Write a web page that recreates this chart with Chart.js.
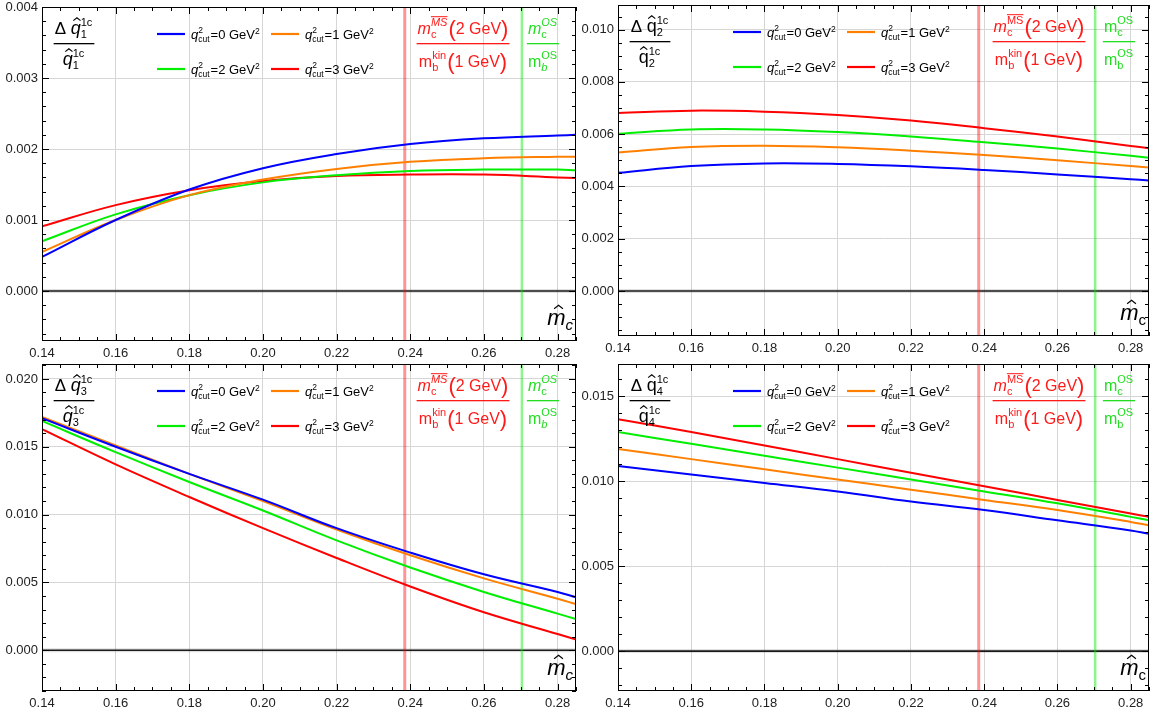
<!DOCTYPE html>
<html lang="en">
<head>
<meta charset="UTF-8">
<title>q-hat corrections vs m_c</title>
<script src="https://cdn.jsdelivr.net/npm/chart.js"></script>
<style>
    body {
        margin: 0;
        background: #fff;
        width: 1153px;
        height: 715px;
        position: relative;
        overflow: hidden;
    }
    canvas {
        position: absolute;
        left: 0;
        top: 0;
    }
</style>
</head>
<body>
<canvas id="c1" width="1153" height="715"></canvas>
<canvas id="c2" width="1153" height="715"></canvas>
<canvas id="c3" width="1153" height="715"></canvas>
<canvas id="c4" width="1153" height="715"></canvas>

<script>
const mcHat = [0.14, 0.16, 0.18, 0.20, 0.22, 0.24, 0.26, 0.28, 0.285];
const cutValues = ['0', '1', '2', '3'];
const cutColors = ['#0000ff', '#ff8000', '#00ee00', '#ff0000'];
const xTicks = [0.14, 0.16, 0.18, 0.20, 0.22, 0.24, 0.26, 0.28];

const mcMSbar = 0.2385;
const mcOS = 0.2703;

const q1Cut0 = [0.00048, 0.00100, 0.00143, 0.00173, 0.00193, 0.00207, 0.00215, 0.00219, 0.00220];
const q1Cut1 = [0.00055, 0.00100, 0.00135, 0.00157, 0.00172, 0.00182, 0.00187, 0.00189, 0.00189];
const q1Cut2 = [0.00070, 0.00108, 0.00135, 0.00153, 0.00163, 0.00169, 0.00171, 0.00171, 0.00170];
const q1Cut3 = [0.00091, 0.00121, 0.00142, 0.00155, 0.00162, 0.00164, 0.00164, 0.00160, 0.00159];

const q2Cut0 = [0.00452, 0.00478, 0.00488, 0.00486, 0.00477, 0.00463, 0.00446, 0.00428, 0.00423];
const q2Cut1 = [0.00530, 0.00551, 0.00556, 0.00550, 0.00537, 0.00520, 0.00500, 0.00478, 0.00472];
const q2Cut2 = [0.00602, 0.00618, 0.00618, 0.00608, 0.00591, 0.00569, 0.00545, 0.00517, 0.00510];
const q2Cut3 = [0.00681, 0.00690, 0.00686, 0.00673, 0.00652, 0.00623, 0.00591, 0.00555, 0.00546];

const q3Cut0 = [0.0171, 0.0150, 0.0130, 0.0111, 0.0090, 0.0072, 0.0056, 0.0043, 0.0039];
const q3Cut1 = [0.0172, 0.0151, 0.0130, 0.0110, 0.0089, 0.0070, 0.0053, 0.0038, 0.0034];
const q3Cut2 = [0.0169, 0.0146, 0.0124, 0.0103, 0.0081, 0.0061, 0.0043, 0.0027, 0.0023];
const q3Cut3 = [0.0163, 0.0137, 0.0113, 0.0090, 0.0068, 0.0047, 0.0028, 0.0012, 0.0008];

const q4Cut0 = [0.0109, 0.0104, 0.0099, 0.0094, 0.0088, 0.0083, 0.0077, 0.0071, 0.0069];
const q4Cut1 = [0.0119, 0.0113, 0.0107, 0.0101, 0.0095, 0.0089, 0.0083, 0.0076, 0.0074];
const q4Cut2 = [0.0129, 0.0122, 0.0115, 0.0108, 0.0101, 0.0094, 0.0087, 0.0079, 0.0077];
const q4Cut3 = [0.01365, 0.0129, 0.0121, 0.0113, 0.0105, 0.0097, 0.0089, 0.0081, 0.0079];

const yTicks1 = [0, 0.001, 0.002, 0.003, 0.004];
const yTicks2 = [0, 0.002, 0.004, 0.006, 0.008, 0.010];
const yTicks3 = [0, 0.005, 0.010, 0.015, 0.020];
const yTicks4 = [0, 0.005, 0.010, 0.015];

// page layout: chart area [left, top, right, bottom] in page pixels
const panels = [
    { id: 'c1', n: '1', up: false, area: [42, 7, 576, 341], y: [-0.000704, 0.004], ticks: yTicks1, minor: 0.0002, series: [q1Cut0, q1Cut1, q1Cut2, q1Cut3] },
    { id: 'c2', n: '2', up: true, area: [618, 5, 1149, 336], y: [-0.00172, 0.01094], ticks: yTicks2, minor: 0.0005, series: [q2Cut0, q2Cut1, q2Cut2, q2Cut3] },
    { id: 'c3', n: '3', up: false, area: [42, 364, 576, 691], y: [-0.0030, 0.0211], ticks: yTicks3, minor: 0.001, series: [q3Cut0, q3Cut1, q3Cut2, q3Cut3] },
    { id: 'c4', n: '4', up: true, area: [618, 364, 1149, 691], y: [-0.00235, 0.0169], ticks: yTicks4, minor: 0.001, series: [q4Cut0, q4Cut1, q4Cut2, q4Cut3] }
];

const FONT = '"Liberation Sans", Arial, sans-serif';
const Y_AXIS_W = 40;
const X_AXIS_H = 20;

function line(ctx, x1, y1, x2, y2) {
    ctx.beginPath();
    ctx.moveTo(x1, y1);
    ctx.lineTo(x2, y2);
    ctx.stroke();
}

function hat(ctx, cx, yb, hw) {
    ctx.save();
    ctx.lineWidth = 1.1;
    ctx.beginPath();
    ctx.moveTo(cx - hw, yb);
    ctx.lineTo(cx, yb - hw * 0.8);
    ctx.lineTo(cx + hw, yb);
    ctx.stroke();
    ctx.restore();
}

// text runs with italics, stacked super/subscripts, hats and overlines
function rich(ctx, x, y, parts, align) {
    const f = (s, it) => (it ? 'italic ' : '') + s + 'px ' + FONT;
    const wOf = p => {
        if (p.stack) {
            ctx.font = f(p.s, p.si);
            const a = ctx.measureText(p.stack[0]).width;
            ctx.font = f(p.s, p.bi);
            const b = ctx.measureText(p.stack[1]).width;
            return Math.max(a, b) + 1;
        }
        ctx.font = f(p.s, p.i);
        return ctx.measureText(p.t).width;
    };
    const widths = parts.map(wOf);
    const total = widths.reduce((s, w) => s + w, 0);
    let cx = align === 'center' ? x - total / 2 : align === 'right' ? x - total : x;
    ctx.textAlign = 'left';
    ctx.textBaseline = 'alphabetic';
    parts.forEach((p, k) => {
        if (p.stack) {
            ctx.font = f(p.s, p.si);
            const ys = y - p.s * 0.72;
            ctx.fillText(p.stack[0], cx, ys);
            if (p.over) {
                ctx.fillRect(cx, ys - p.s * 0.9, ctx.measureText(p.stack[0]).width, 1);
            }
            ctx.font = f(p.s, p.bi);
            ctx.fillText(p.stack[1], cx, y + p.s * 0.4);
        } else {
            ctx.font = f(p.s, p.i);
            ctx.fillText(p.t, cx, y + (p.dy || 0));
            if (p.hat) hat(ctx, cx + widths[k] * (p.i ? 0.62 : 0.5), y - p.s * 0.74, p.s * 0.2);
        }
        cx += widths[k];
    });
    return total;
}

function fraction(ctx, cx, yNum, yBar, yDen, num, den, color) {
    ctx.fillStyle = color;
    ctx.strokeStyle = color;
    const w1 = rich(ctx, cx, yNum, num, 'center');
    const w2 = rich(ctx, cx, yDen, den, 'center');
    const w = Math.max(w1, w2) + 2;
    ctx.fillRect(cx - w / 2, yBar, w, 1.3);
}

const decor = {
    id: 'decor',
    beforeDatasetsDraw(chart) {
        const { ctx, chartArea: a, scales: { x, y } } = chart;
        ctx.save();
        const y0 = y.getPixelForValue(0);
        ctx.strokeStyle = 'rgba(0,0,0,0.12)';
        ctx.lineWidth = 4;
        line(ctx, a.left, y0, a.right, y0);
        ctx.strokeStyle = '#1a1a1a';
        ctx.lineWidth = 1.6;
        line(ctx, a.left, y0, a.right, y0);

        const xr = x.getPixelForValue(mcMSbar);
        ctx.strokeStyle = 'rgba(255,0,0,0.42)';
        ctx.lineWidth = 3;
        line(ctx, xr, a.top, xr, a.bottom);
        const xg = x.getPixelForValue(mcOS);
        ctx.strokeStyle = 'rgba(0,235,0,0.45)';
        ctx.lineWidth = 2.5;
        line(ctx, xg, a.top, xg, a.bottom);
        ctx.restore();
    },
    afterDatasetsDraw(chart, args, opts) {
        const { ctx, chartArea: a, scales: { x, y } } = chart;
        ctx.save();
        ctx.strokeStyle = '#000';
        ctx.lineWidth = 1;
        ctx.strokeRect(a.left + 0.5, a.top + 0.5, a.right - a.left - 1, a.bottom - a.top - 1);

        // frame ticks, inward on all four sides
        for (let k = 0; k <= 30; k++) {
            const v = 0.14 + k * 0.005;
            if (v > x.max + 1e-9) break;
            const px = Math.round(x.getPixelForValue(v)) + 0.5;
            const len = k % 4 === 0 ? 7 : 4;
            line(ctx, px, a.bottom, px, a.bottom - len);
            line(ctx, px, a.top, px, a.top + len);
        }
        const p = opts.panel;
        const step = p.minor;
        const kMin = Math.ceil(y.min / step - 1e-6);
        const kMax = Math.floor(y.max / step + 1e-6);
        const per = Math.round((p.ticks[1] - p.ticks[0]) / step);
        for (let k = kMin; k <= kMax; k++) {
            const py = Math.round(y.getPixelForValue(k * step)) + 0.5;
            const len = k % per === 0 ? 7 : 4;
            line(ctx, a.left, py, a.left + len, py);
            line(ctx, a.right, py, a.right - len, py);
        }
        ctx.restore();
    },
    afterDraw(chart, args, opts) {
        const { ctx, chartArea: a } = chart;
        const p = opts.panel;
        ctx.save();

        // y label fraction
        const qn = [{ t: 'Δ ', s: 17 }, { t: 'q', s: 18, i: !p.up, hat: true }, { stack: ['1c', p.n], s: 11 }];
        const qd = [{ t: 'q', s: 18, i: !p.up, hat: true }, { stack: ['1c', p.n], s: 11 }];
        fraction(ctx, a.left + 32, a.top + 27, a.top + 36, a.top + 58, qn, qd, '#000');

        // legend 2x2
        const cols = [a.left + 115, a.left + 229];
        const rows = [a.top + 27, a.top + 62];
        cutValues.forEach((c, k) => {
            const lx = cols[k % 2];
            const ly = rows[Math.floor(k / 2)];
            ctx.strokeStyle = cutColors[k];
            ctx.lineWidth = 2.2;
            line(ctx, lx, ly, lx + 28, ly);
            ctx.fillStyle = '#000';
            rich(ctx, lx + 34, ly + 5, [
                { t: 'q', s: 13, i: true },
                { stack: ['2', 'cut'], s: 8.5 },
                { t: '=' + c + ' GeV', s: 13 },
                { t: '2', s: 8.5, dy: -5 }
            ], 'left');
        });

        // scheme labels next to the marker lines
        fraction(ctx, a.left + 421, a.top + 27, a.top + 36, a.top + 60,
            [{ t: 'm', s: 16, i: true }, { stack: ['MS', 'c'], s: 11, si: !p.up, over: true },
             { t: '(', s: 22, dy: 2 }, { t: '2 GeV', s: 16 }, { t: ')', s: 22, dy: 2 }],
            [{ t: 'm', s: 16 }, { stack: ['kin', 'b'], s: 11 },
             { t: '(', s: 22, dy: 2 }, { t: '1 GeV', s: 16 }, { t: ')', s: 22, dy: 2 }],
            '#ff1a1a');
        fraction(ctx, a.left + 501, a.top + 27, a.top + 36, a.top + 60,
            [{ t: 'm', s: 16, i: !p.up }, { stack: ['OS', 'c'], s: 11, si: !p.up }],
            [{ t: 'm', s: 16 }, { stack: ['OS', 'b'], s: 11, bi: !p.up }],
            '#22dd22');

        // x label
        ctx.fillStyle = '#000';
        ctx.strokeStyle = '#000';
        rich(ctx, a.right - 3, a.bottom - 16, [{ t: 'm', s: 22, i: true, hat: true }, { t: 'c', s: 15, i: !p.up, dy: 5 }], 'right');
        ctx.restore();
    }
};

panels.forEach(p => {
    const [l, t, r, b] = p.area;
    new Chart(document.getElementById(p.id), {
        type: 'line',
        data: {
            datasets: p.series.map((vals, k) => ({
                label: 'q²cut=' + cutValues[k] + ' GeV²',
                data: mcHat.map((m, j) => ({ x: m, y: vals[j] })),
                borderColor: cutColors[k],
                borderWidth: 2,
                pointRadius: 0,
                tension: 0.4,
                fill: false
            }))
        },
        options: {
            responsive: false,
            animation: false,
            events: [],
            layout: {
                padding: { left: l - Y_AXIS_W, top: t, right: 1153 - r, bottom: 715 - b - X_AXIS_H }
            },
            scales: {
                x: {
                    type: 'linear',
                    min: 0.14,
                    max: 0.285,
                    afterBuildTicks: s => { s.ticks = xTicks.map(v => ({ value: v })); },
                    afterFit: s => { s.height = X_AXIS_H; s.paddingLeft = 0; s.paddingRight = 0; },
                    border: { display: false },
                    grid: { color: '#d6d6d6', lineWidth: 1, drawTicks: false },
                    ticks: {
                        padding: 5,
                        color: '#222',
                        font: { family: FONT, size: 13 },
                        maxRotation: 0,
                        callback: v => v.toFixed(2)
                    }
                },
                y: {
                    min: p.y[0],
                    max: p.y[1],
                    afterBuildTicks: s => { s.ticks = p.ticks.map(v => ({ value: v })); },
                    afterFit: s => { s.width = Y_AXIS_W; s.paddingTop = 0; s.paddingBottom = 0; },
                    border: { display: false },
                    grid: {
                        color: c => (c.tick && c.tick.value === 0 ? 'rgba(0,0,0,0)' : '#d6d6d6'),
                        lineWidth: 1,
                        drawTicks: false
                    },
                    ticks: {
                        padding: 4,
                        color: '#222',
                        font: { family: FONT, size: 13 },
                        callback: v => v.toFixed(3)
                    }
                }
            },
            plugins: {
                legend: { display: false },
                tooltip: { enabled: false },
                decor: { panel: p }
            }
        },
        plugins: [decor]
    });
});
</script>
</body>
</html>
